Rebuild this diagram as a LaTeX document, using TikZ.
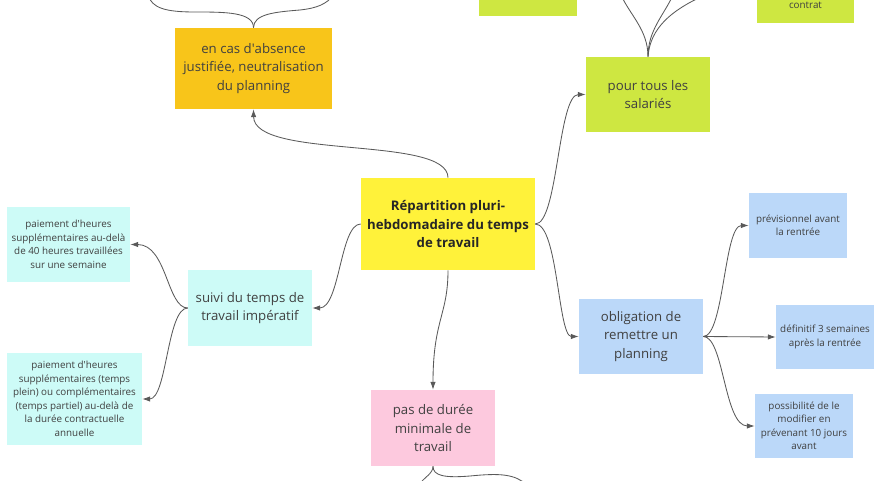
\documentclass[tikz,border=0pt]{standalone}
\usepackage{fontspec}
\setmainfont{Open Sans}
\usepackage{tikz}
\usetikzlibrary{arrows.meta}

\definecolor{absorange}{HTML}{F8C51A}
\definecolor{lime}{HTML}{CEE741}
\definecolor{central}{HTML}{FFF23A}
\definecolor{aqua}{HTML}{CDFBF7}
\definecolor{sky}{HTML}{BBD8F9}
\definecolor{rose}{HTML}{FDC9DE}

\begin{document}
\begin{tikzpicture}[x=0.025cm, y=-0.025cm,
        box/.style = {inner sep=0pt, align=center, text=black!75,
            font=\fontsize{9.4}{13.1}\selectfont},
        note/.style = {box, font=\fontsize{7}{9.6}\selectfont},
        link/.style = {draw=black!65, line width=0.6pt,
            -{Latex[length=5.5pt,width=3.8pt]}},
        branch/.style = {draw=black!65, line width=0.6pt}]

        \clip (0,0) rectangle (880,480);

        % Central topic
        \node[box, fill=central, minimum width=4.35cm, minimum height=2.3cm,
            text=black!85, font=\bfseries\fontsize{9.4}{13.1}\selectfont]
            (repartition) at (448,224)
            {Répartition pluri-\\hebdomadaire du temps\\de travail};

        % Top branches
        \node[box, fill=absorange, minimum width=3.925cm, minimum height=2.025cm]
            (absence) at (253.5,68.5)
            {en cas d\textquotesingle absence\\justifiée, neutralisation\\du planning};
        \node[box, fill=lime, minimum width=3.1cm, minimum height=1.875cm]
            (salaries) at (648,94.5) {pour tous les\\salariés};
        \node[box, fill=lime, minimum width=2.45cm, minimum height=1.5cm]
            (hidden) at (528,-14) {};
        \node[box, fill=lime, minimum width=2.425cm, minimum height=1.5cm]
            (contratbox) at (805.5,-7) {};
        \node[note] (contrat) at (805.5,5) {contrat};

        % Left branch
        \node[box, fill=aqua, minimum width=3.1cm, minimum height=1.9cm]
            (suivi) at (250,308) {suivi du temps de\\travail impératif};
        \node[note, fill=aqua, minimum width=3.075cm, minimum height=1.875cm]
            (heures) at (68.5,244.5)
            {paiement d\textquotesingle heures\\supplémentaires au-delà\\de 40 heures travaillées\\sur une semaine};
        \node[note, fill=aqua, minimum width=3.375cm, minimum height=2.3cm]
            (annuelle) at (74.5,399)
            {paiement d\textquotesingle heures\\supplémentaires (temps\\plein) ou complémentaires\\(temps partiel) au-delà de\\la durée contractuelle\\annuelle};

        % Right branch
        \node[box, fill=sky, minimum width=3.1cm, minimum height=1.875cm]
            (obligation) at (641,336.5) {obligation de\\remettre un\\planning};
        \node[note, fill=sky, minimum width=2.45cm, minimum height=1.625cm]
            (previsionnel) at (798,225.5) {prévisionnel avant\\la rentrée};
        \node[note, fill=sky, minimum width=2.45cm, minimum height=1.6cm]
            (definitif) at (825,337) {définitif 3 semaines\\après la rentrée};
        \node[note, fill=sky, minimum width=2.45cm, minimum height=1.6cm]
            (possibilite) at (804,426)
            {possibilité de le\\modifier en\\prévenant 10 jours\\avant};

        % Bottom branch
        \node[box, fill=rose, minimum width=3.1cm, minimum height=1.9cm]
            (duree) at (433,428) {pas de durée\\minimale de\\travail};

        % Connectors
        \draw[link] (repartition.north) .. controls (448,135) and (254,160) .. (absence.south);
        \draw[link] (repartition.east) .. controls (558,224) and (558,94.5) .. (salaries.west);
        \draw[link] (repartition.east) .. controls (558,224) and (558,336.5) .. (obligation.west);
        \draw[link] (repartition.west) .. controls (340,224) and (340,308) .. (suivi.east);
        \draw[link] (repartition.south) .. controls (448,315) and (433,320) .. (duree.north);
        \draw[link] (suivi.west) .. controls (167,308) and (167,244.5) .. (heures.east);
        \draw[link] (suivi.west) .. controls (167,308) and (167,399) .. (annuelle.east);
        \draw[link] (obligation.east) .. controls (724,336.5) and (724,225.5) .. (previsionnel.west);
        \draw[link] (obligation.east) -- (definitif.west);
        \draw[link] (obligation.east) .. controls (724,336.5) and (724,426) .. (possibilite.west);

        % Branches leaving the frame
        \coordinate (absL) at (148,-5);
        \coordinate (absR) at (334,-5);
        \coordinate (salL) at (621,-5);
        \coordinate (salM) at (673,-5);
        \coordinate (salR) at (703,-4);
        \coordinate (dureeL) at (419,485);
        \coordinate (dureeR) at (527,485);
        \draw[branch] (absence.north) .. controls (253.5,12) and (225,12) .. (195,12)
            .. controls (165,12) and (152,8) .. (absL);
        \draw[branch] (absence.north) .. controls (253.5,14) and (275,12) .. (300,10)
            .. controls (318,8) and (326,4) .. (absR);
        \draw[branch] (salaries.north) .. controls (648,30) and (630,15) .. (salL);
        \draw[branch] (salaries.north) .. controls (648,30) and (664,15) .. (salM);
        \draw[branch] (salaries.north) .. controls (650,28) and (672,10) .. (salR);
        \draw[branch] (duree.south) .. controls (433,474) and (424,477) .. (dureeL);
        \draw[branch] (duree.south) .. controls (433,476) and (445,478) .. (470,476)
            .. controls (500,473) and (515,474) .. (dureeR);

\end{tikzpicture}
\end{document}
